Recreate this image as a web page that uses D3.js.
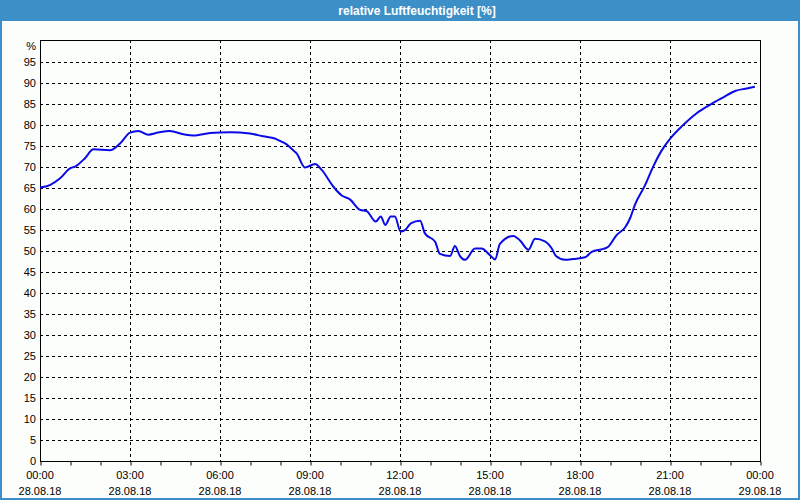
<!DOCTYPE html>
<html><head><meta charset="utf-8">
<script src="https://cdn.jsdelivr.net/npm/d3@7"></script>
<style>html,body{margin:0;padding:0;background:#fcfefc;}svg{display:block;}</style>
</head><body>
<svg id="c" width="800" height="500"></svg>
<script>
const title = "relative Luftfeuchtigkeit [%]";
const unitLabel = "%";
const yTicks = [0,5,10,15,20,25,30,35,40,45,50,55,60,65,70,75,80,85,90,95];
const xTickHours = [0,3,6,9,12,15,18,21,24];
const xTimeLabels = ["00:00","03:00","06:00","09:00","12:00","15:00","18:00","21:00","00:00"];
const xDateLabels = ["28.08.18","28.08.18","28.08.18","28.08.18","28.08.18","28.08.18","28.08.18","28.08.18","29.08.18"];
// hours after 28.08.18 00:00
const hours = [0,0.33,0.67,1.0,1.17,1.5,1.78,2.33,2.67,3.0,3.28,3.61,3.94,4.33,4.78,5.11,5.67,6.33,7.0,7.44,7.83,8.0,8.22,8.44,8.56,8.83,9.17,9.39,9.78,10.06,10.33,10.67,10.89,11.19,11.36,11.51,11.69,11.83,12.02,12.2,12.36,12.67,12.83,13.17,13.33,13.67,13.83,14.0,14.17,14.5,14.72,15.0,15.17,15.33,15.78,16.0,16.28,16.5,16.83,17.06,17.2,17.5,17.78,18.17,18.39,18.78,18.94,19.22,19.5,19.67,19.83,20.17,20.44,20.72,21.0,21.44,21.89,22.33,22.78,23.17,23.56,23.83];
const humidity = [65.1,65.7,67.3,69.7,70.1,72.1,74.2,74.0,75.6,78.2,78.6,77.7,78.2,78.6,77.8,77.5,78.1,78.3,78.0,77.3,76.8,76.2,75.4,74.0,73.2,69.9,70.7,69.3,65.3,63.2,62.3,59.8,59.5,57.0,58.2,56.2,58.2,58.2,54.6,55.2,56.6,57.2,54.2,52.2,49.3,48.8,51.2,48.8,47.9,50.6,50.6,49.0,48.0,51.7,53.6,52.5,50.3,52.9,52.3,50.6,48.8,47.9,48.1,48.5,49.8,50.5,51.0,53.8,55.6,57.8,61.0,65.7,70.1,73.9,76.7,80.0,82.8,84.8,86.6,88.1,88.7,89.1];

const svg = d3.select("#c");
const W = 800, H = 500;
const L = 40, R = 760, T = 40, B = 461;
const t0 = new Date(2018, 7, 28, 0, 0);
const toDate = h => new Date(t0.getTime() + h * 3600000);
const x = d3.scaleTime().domain([t0, toDate(24)]).range([L, R]);
const y = d3.scaleLinear().domain([0, 100]).range([B, T + 1]);
const font = "'Liberation Sans', Arial, sans-serif";
const blue = "#3d8fc7";

svg.append("rect").attr("x",0).attr("y",0).attr("width",W).attr("height",H).attr("fill","#fcfefc");
// title bar
svg.append("rect").attr("x",0).attr("y",0).attr("width",W).attr("height",21).attr("fill",blue);
svg.append("text").attr("x",417).attr("y",15).attr("text-anchor","middle")
  .attr("font-family",font).attr("font-weight","bold").attr("font-size",12).attr("fill","#fff").text(title);
// window border
svg.append("rect").attr("x",1).attr("y",1).attr("width",W-2).attr("height",H-2)
  .attr("fill","none").attr("stroke",blue).attr("stroke-width",2);

// grid
const g = svg.append("g");
g.selectAll(".hg").data(yTicks.filter(v => v > 0)).enter().append("line")
  .attr("x1",L).attr("x2",R).attr("y1",d=>Math.round(y(d))+0.5).attr("y2",d=>Math.round(y(d))+0.5)
  .attr("stroke","#000").attr("stroke-width",1).attr("stroke-dasharray","3,3");
g.selectAll(".vg").data(xTickHours.filter(h => h > 0 && h < 24)).enter().append("line")
  .attr("y1",T).attr("y2",B).attr("x1",d=>Math.round(x(toDate(d)))+0.5).attr("x2",d=>Math.round(x(toDate(d)))+0.5)
  .attr("stroke","#000").attr("stroke-width",1).attr("stroke-dasharray","3,3");

// frame
svg.append("rect").attr("x",L+0.5).attr("y",T+0.5).attr("width",R-L).attr("height",B-T)
  .attr("fill","none").attr("stroke","#000").attr("stroke-width",1);

// x axis hourly ticks
const xAxis = d3.axisBottom(x).ticks(d3.timeHour.every(1)).tickSize(4).tickFormat("");
const xa = svg.append("g").attr("transform",`translate(0.5,${B+0.5})`).call(xAxis);
xa.select(".domain").remove();
xa.selectAll("line").attr("stroke","#000");

// x labels
svg.selectAll(".xt").data(xTickHours).enter().append("text")
  .attr("x",d=>x(toDate(d))).attr("y",479).attr("text-anchor","middle")
  .attr("font-family",font).attr("font-size",11).attr("fill","#000").text((d,i)=>xTimeLabels[i]);
svg.selectAll(".xd").data(xTickHours).enter().append("text")
  .attr("x",d=>x(toDate(d))).attr("y",495).attr("text-anchor","middle")
  .attr("font-family",font).attr("font-size",11).attr("fill","#000").text((d,i)=>xDateLabels[i]);

// y labels
svg.selectAll(".yl").data(yTicks).enter().append("text")
  .attr("x",36).attr("y",d=>y(d)).attr("dy","0.36em").attr("text-anchor","end")
  .attr("font-family",font).attr("font-size",11).attr("fill","#000").text(d=>d);
svg.append("text").attr("x",36).attr("y",50).attr("text-anchor","end")
  .attr("font-family",font).attr("font-size",11).attr("fill","#000").text(unitLabel);

// line
const data = hours.map((h,i)=>({t:toDate(h), v:humidity[i]}));
const line = d3.line().x(d=>x(d.t)).y(d=>y(d.v)).curve(d3.curveMonotoneX);
svg.append("path").datum(data).attr("d",line).attr("fill","none")
  .attr("stroke","#0a0ae6").attr("stroke-width",2).attr("stroke-linejoin","round");
</script>
</body></html>
